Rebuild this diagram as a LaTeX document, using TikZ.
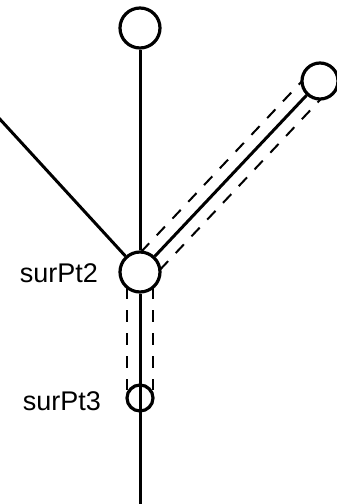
\documentclass[tikz,border=0pt]{standalone}
\usepackage{fontspec}
\setmainfont{Liberation Sans}
\usetikzlibrary{calc}
\begin{document}
\begin{tikzpicture}[x=1pt,y=-1pt,
  pt/.style={circle,draw,line width=3.2pt,inner sep=0pt,minimum size=#1},
  conn/.style={line width=3pt},
  guide/.style={line width=2pt,dash pattern=on 12pt off 11pt},
  lbl/.style={font=\fontsize{27}{32}\selectfont,inner sep=0pt,anchor=east}]
\path[use as bounding box,clip] (0,0) rectangle (337,504);
\fill[white] (0,0) rectangle (337,504);
% points
\node[pt=40pt] (top) at (140,28) {};
\node[pt=40pt] (p2) at (140,272) {};
\node[pt=36pt] (pr) at (320,81) {};
\node[pt=26pt] (p3) at (140,398) {};
\coordinate (lft) at (-14,104);
\coordinate (bot) at (140,515);
% solid connectors
\draw[conn] (top) -- (p2);
\draw[conn] (lft) -- (p2);
\draw[conn] (p2) -- (pr);
\draw[conn] (p2) -- (bot);
% dashed guides along p2 -- pr
\coordinate (ga1) at ($(p2.center)!13pt!90:(pr.center)$);
\coordinate (gb1) at ($(pr.center)!13pt!-90:(p2.center)$);
\coordinate (ga2) at ($(p2.center)!13pt!-90:(pr.center)$);
\coordinate (gb2) at ($(pr.center)!13pt!90:(p2.center)$);
\draw[guide,shorten <=15.2pt,shorten >=12.4pt] (ga1) -- (gb1);
\draw[guide,shorten <=15.2pt,shorten >=12.4pt] (ga2) -- (gb2);
% dashed guides along p2 -- p3
\coordinate (va1) at ($(p2.center)+(-13,0)$);
\coordinate (vb1) at ($(p3.center)+(-13,0)$);
\coordinate (va2) at ($(p2.center)+(13,0)$);
\coordinate (vb2) at ($(p3.center)+(13,0)$);
\draw[guide,shorten <=15.2pt,shorten >=8pt] (va1) -- (vb1);
\draw[guide,shorten <=15.2pt,shorten >=8pt] (va2) -- (vb2);
% labels
\node[lbl] (l2) at (98,273.5) {surPt2};
\node[lbl] (l3) at (101,401) {surPt3};
\end{tikzpicture}
\end{document}
